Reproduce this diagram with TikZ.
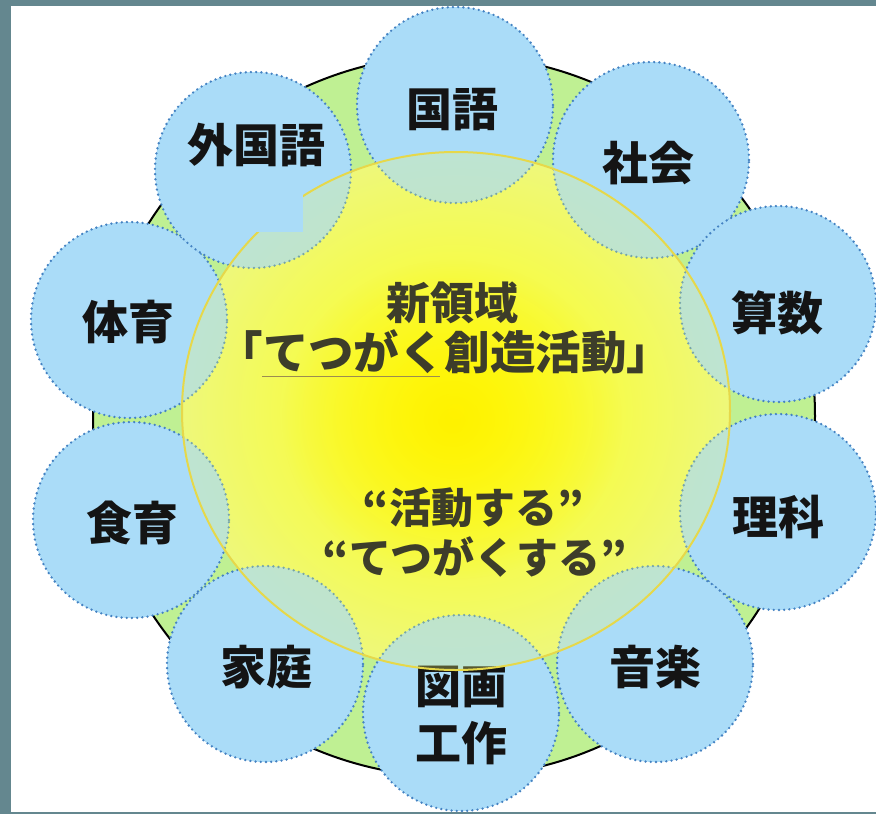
\documentclass[tikz,border=0pt]{standalone}
\usepackage{fontspec}
\setmainfont{Noto Sans CJK JP}
\usetikzlibrary{fadings}
\tikzfading[name=spotfade, inner color=transparent!0, outer color=transparent!100]
\definecolor{bgC}{HTML}{64878F}
\definecolor{greenF}{HTML}{BFF093}
\definecolor{blueF}{HTML}{AADCF8}
\definecolor{blueD}{HTML}{4482C2}
\definecolor{yelIn}{HTML}{FFFF10}
\definecolor{yelOut}{HTML}{EEF87A}
\definecolor{yelLine}{HTML}{E6D84A}
\definecolor{ctext}{HTML}{3D3D2A}
\definecolor{uline}{HTML}{9C8C50}
\tikzset{
  bigring/.style={circle, minimum size=722pt, inner sep=0pt, fill=greenF, draw=black, line width=2pt},
  subj/.style={circle, minimum size=196pt, inner sep=0pt, fill=blueF, draw=blueD, line width=2.6pt, dash pattern=on 0pt off 5.2pt, line cap=round},
  lbl/.style={font=\fontsize{46pt}{57pt}\selectfont\bfseries, text=black!92, align=center, inner sep=0pt},
  ctr/.style={font=\fontsize{44pt}{50pt}\selectfont\bfseries, text=ctext, inner sep=0pt},
  yshade/.style={inner color=yelIn, outer color=yelOut}
}
\begin{document}
\begin{tikzpicture}[x=1pt,y=-1pt]
\useasboundingbox (0,0) rectangle (876,814);
\fill[bgC] (0,0) rectangle (876,814);
\fill[white] (11,6) rectangle (876,812);
% big green ring
\node[bigring] (ring) at (454,416) {};
% yellow area, opaque base layer (under the subject circles)
\shade[yshade] (456,411) ellipse [x radius=274pt, y radius=259pt];
% subject circles
\node[subj] (c1) at (455,105) {};
\node[subj] (c2) at (651,160) {};
\node[subj] (c3) at (778,304) {};
\node[subj] (c4) at (778,512) {};
\node[subj] (c5) at (655,664) {};
\node[subj] (c6) at (461,713) {};
\node[subj] (c7) at (265,664) {};
\node[subj] (c8) at (131,520) {};
\node[subj] (c9) at (129,320) {};
\node[subj] (c10) at (253,170) {};
% labels
\node[lbl] (t1) at (452,110) {国語};
\node[lbl] (t2) at (648,163) {社会};
\node[lbl] (t3) at (777,313) {算数};
\node[lbl] (t4) at (778,517) {理科};
\node[lbl] (t5) at (655,667) {音楽};
\node[lbl] (t6) at (461,715) {図画\\工作};
\node[lbl] (t7) at (266,667) {家庭};
\node[lbl] (t8) at (132,523) {食育};
\node[lbl] (t9) at (128,322) {体育};
\node[lbl] (t10) at (256,145) {外国語};
% yellow area, translucent top layer
\begin{scope}[opacity=0.3]
  \shade[yshade] (456,411) ellipse [x radius=274pt, y radius=259pt];
\end{scope}
\fill[yellow, path fading=spotfade] (452,420) ellipse [x radius=170pt, y radius=160pt];
\draw[yelLine, line width=2pt] (456,411) ellipse [x radius=274pt, y radius=259pt];
% central text
\node[ctr] (m1) at (452,303) {新領域};
\node[ctr, font=\fontsize{45.5pt}{50pt}\selectfont\bfseries] (m2) at (445,352) {「てつがく創造活動」};
\coordinate (u1) at (262,376);
\coordinate (u2) at (440,376);
\draw[uline, line width=0.8pt] (u1) -- (u2);
\node[ctr, font=\fontsize{42pt}{50pt}\selectfont\bfseries] (m3) at (473,508) {“活動する”};
\node[ctr, font=\fontsize{42pt}{50pt}\selectfont\bfseries] (m4) at (475,557) {“てつがくする”};
% patch over foreign-language circle
\fill[blueF] (205,180) rectangle (303,232);
\end{tikzpicture}
\end{document}
